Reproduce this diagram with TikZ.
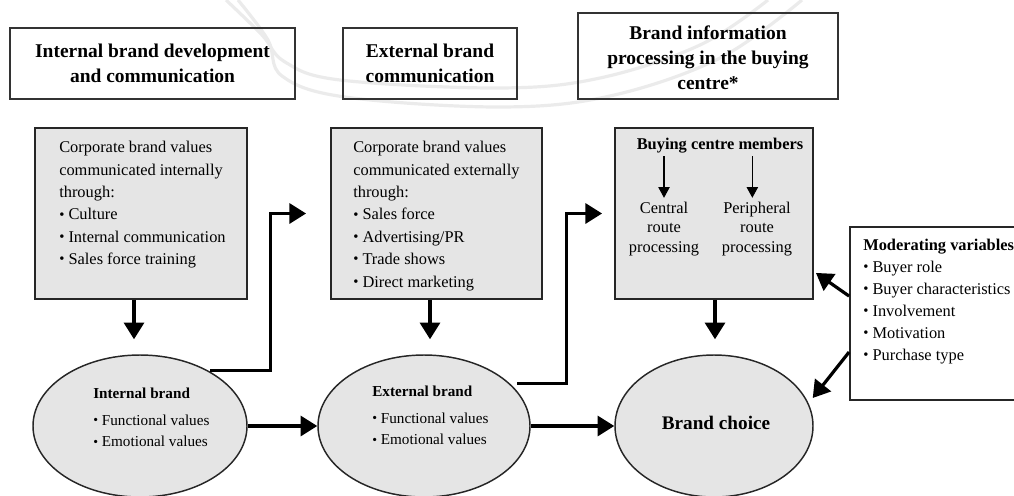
\documentclass[tikz,border=0pt]{standalone}
\usepackage{fontspec}
\usepackage{graphicx}
\setmainfont{Liberation Serif}
\usetikzlibrary{arrows.meta,shapes.geometric,calc}

% small list bullet
\newcommand\bul{\raisebox{0.1ex}{\scalebox{0.9}{\textbullet}}\hspace{0.25em}}

\begin{document}
\begin{tikzpicture}[x=0.75pt,y=-0.75pt,
  headbox/.style={draw=black!80, line width=1.1pt, inner sep=0pt},
  headtext/.style={align=center, inner sep=0pt,
    font=\fontsize{14.6}{18.6}\selectfont\bfseries},
  panel/.style={draw=black!85, line width=1.4pt, fill=black!10, inner sep=0pt},
  oval/.style={ellipse, draw=black!85, line width=1.1pt, fill=black!10, inner sep=0pt},
  body/.style={align=left, inner sep=0pt, anchor=north west,
    font=\fontsize{12.3}{16.8}\selectfont},
  ovaltext/.style={align=left, inner sep=0pt, anchor=north west,
    font=\fontsize{11.4}{16}\selectfont},
  route/.style={align=center, inner sep=0pt,
    font=\fontsize{12.3}{14.6}\selectfont},
  flow/.style={line width=2.4pt, -{Triangle[length=12.5pt,width=15pt]}},
  thinflow/.style={line width=0.8pt, -{Triangle[length=8pt,width=8.5pt]}},
  faint/.style={draw=black!8, line width=2.4pt}
]
\useasboundingbox (0,0) rectangle (1014,496);

% faint background arcs
\draw[faint] plot[smooth, tension=0.6] coordinates
  {(226,0) (262,35) (285,62) (340,80) (500,88) (600,78) (700,45) (768,0)};
\draw[faint] plot[smooth, tension=0.6] coordinates
  {(238,0) (268,40) (282,76) (345,97) (500,107) (610,96) (720,58) (802,0)};

% column headings
\node[headbox, minimum width=213.75pt, minimum height=53.25pt] (h1) at (152.5,63.5) {};
\node[headtext] (h1t) at (152.5,63.5) {Internal brand development\\and communication};
\node[headbox, minimum width=130.5pt, minimum height=53.25pt] (h2) at (430,63.5) {};
\node[headtext] (h2t) at (430,63.5) {External brand\\communication};
\node[headbox, minimum width=195pt, minimum height=64.5pt] (h3) at (708,56) {};
\node[headtext] (h3t) at (708,58) {Brand information\\processing in the buying\\centre*};

% grey panels
\node[panel, minimum width=159pt, minimum height=128.25pt] (g1) at (141,213.5) {};
\node[panel, minimum width=158.25pt, minimum height=128.25pt] (g2) at (436.5,213.5) {};
\node[panel, minimum width=148.5pt, minimum height=128.25pt] (g3) at (714,213.5) {};

\node[body] (g1t) at (59,141) {Corporate brand values\\communicated internally\\through:\\
  \bul Culture\\\bul Internal communication\\\bul Sales force training};
\node[body] (g2t) at (353,141) {Corporate brand values\\communicated externally\\through:\\
  \bul Sales force\\\bul Advertising/PR\\\bul Trade shows\\\bul Direct marketing};

\node[inner sep=0pt, font=\fontsize{12.3}{14.6}\selectfont\bfseries] (bcm) at (720,146) {Buying centre members};
\node[route] (crp) at (664,229) {Central\\route\\processing};
\node[route] (prp) at (757,229) {Peripheral\\route\\processing};
\draw[thinflow] ([yshift=-2pt]bcm.south -| crp) -- ([yshift=3pt]crp.north);
\draw[thinflow] ([xshift=-3.5pt,yshift=-2pt]bcm.south -| prp) -- ([xshift=-3.5pt,yshift=3pt]prp.north);

% moderating variables (runs past the right edge)
\node[draw=black!85, line width=1.4pt, fill=white, inner sep=0pt,
  minimum width=180pt, minimum height=129.75pt] (mv) at (970,313.5) {};
\node[body, font=\fontsize{12.3}{16.5}\selectfont] (mvt) at (863,239)
  {\textbf{Moderating variables}\\\bul Buyer role\\\bul Buyer characteristics\\
   \bul Involvement\\\bul Motivation\\\bul Purchase type};

% brand ovals
\node[oval, minimum width=160.5pt, minimum height=106.5pt] (e1) at (140,426) {};
\node[oval, minimum width=159pt, minimum height=106.5pt] (e2) at (424,426) {};
\node[oval, minimum width=148.5pt, minimum height=106.5pt] (bc) at (714,426) {};

\node[ovaltext] (e1t) at (93,388) {\textbf{Internal brand}\\[4pt]\bul Functional values\\\bul Emotional values};
\node[ovaltext] (e2t) at (372,386) {\textbf{External brand}\\[4pt]\bul Functional values\\\bul Emotional values};
\node[inner sep=0pt, font=\fontsize{14.4}{18}\selectfont\bfseries] (bct) at (716,423) {Brand choice};

% connectors
\draw[flow] ($(g1.south)+(-7,0)$) -- ($(e1.north)+(-6,-15)$);
\draw[flow] ($(g2.south)+(-6.5,0)$) -- ($(e2.north)+(6,-15)$);
\draw[flow] ($(g3.south)+(1,0)$) -- ($(bc.north)+(1,-15)$);

\draw[flow] (e1) -- (e2);
\draw[flow] (e2) -- (bc);

\coordinate (tipA) at ($(g2.west)+(-24,0)$);
\coordinate (tipB) at ($(g3.west)+(-12,0)$);
\draw[flow, line join=miter] ($(e1.39)+(2,0)$) -- ++(60,0) |- (tipA);
\draw[flow, line join=miter] ($(e2.26)+(7,0)$) -- ++(49,0) |- (tipB);

\draw[flow] ($(mv.north west)+(0,70)$) -- ($(g3.south east)+(2,-27)$);
\draw[flow] ($(mv.north west)+(0,126)$) -- ($(bc.east)+(-1,-28)$);
\end{tikzpicture}
\end{document}
